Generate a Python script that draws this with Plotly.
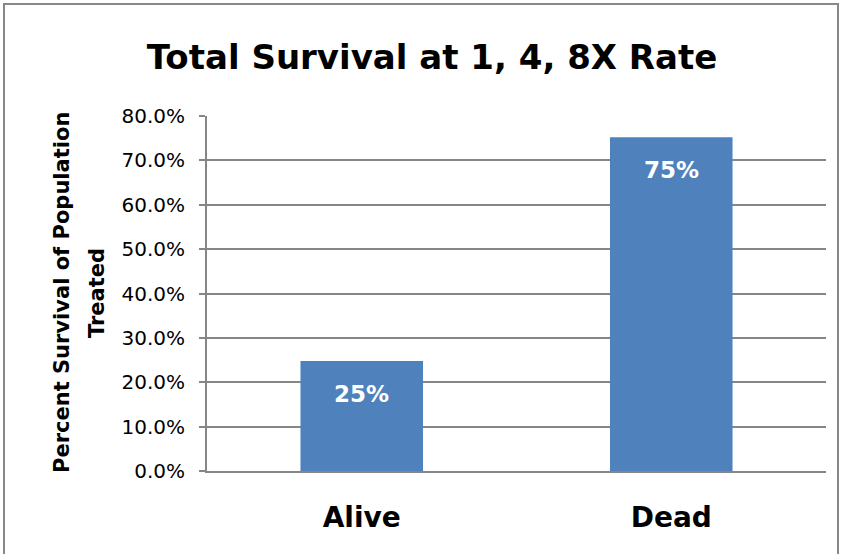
import plotly.graph_objects as go

categories = ["Alive", "Dead"]
values = [0.248, 0.752]
tick_vals = [0, 0.1, 0.2, 0.3, 0.4, 0.5, 0.6, 0.7, 0.8]
y_title_lines = ["Percent Survival of Population", "Treated"]

W, H = 842, 554
ML, MR, MT, MB = 207, 16, 116, 83
PW, PH = W - ML - MR, H - MT - MB
FONT = "DejaVu Sans"

fig = go.Figure(go.Bar(
    x=categories, y=values,
    marker=dict(color="#4F81BD", line=dict(width=0)),
    textposition="none",
    hoverinfo="skip",
))

for c, v in zip(categories, values):
    fig.add_annotation(x=c, y=v, text=f"<b>{v:.0%}</b>", showarrow=False,
                       yanchor="middle", yshift=-33,
                       font=dict(family=FONT, size=23, color="white"))

def px_x(p):
    return (p - ML) / PW

def px_y(p):
    return (H - MB - p) / PH

# y-axis title, two rotated lines
for line, xpx in zip(y_title_lines, [62, 97]):
    fig.add_annotation(xref="paper", yref="paper", x=px_x(xpx), y=px_y(293),
                       text=f"<b>{line}</b>", showarrow=False, textangle=-90,
                       xanchor="center", yanchor="middle",
                       font=dict(family=FONT, size=21, color="black"))

fig.add_shape(type="rect", xref="paper", yref="paper",
              x0=px_x(4), x1=px_x(838), y0=px_y(560), y1=px_y(4),
              line=dict(color="#888888", width=2), fillcolor="rgba(0,0,0,0)", layer="below")

fig.update_layout(
    width=W, height=H,
    margin=dict(l=ML, r=MR, t=MT, b=MB),
    paper_bgcolor="white", plot_bgcolor="white",
    bargap=0.604,
    showlegend=False,
    title=dict(text="<b>Total Survival at 1, 4, 8X Rate</b>", x=432 / W, xref="container",
               xanchor="center", y=1 - 57 / H, yanchor="middle",
               font=dict(family=FONT, size=34, color="black")),
    font=dict(family=FONT, color="black"),
)
fig.update_xaxes(
    showline=True, linecolor="#868686", linewidth=2,
    tickfont=dict(family=FONT, size=28, color="black", weight="bold"),
    ticks="", ticklabelstandoff=20,
)
fig.update_yaxes(
    range=[0, 0.8], tickvals=tick_vals, tickformat=".1%",
    showgrid=True, gridcolor="#868686", gridwidth=1.5,
    showline=True, linecolor="#868686", linewidth=2,
    ticks="outside", ticklen=6, tickcolor="#868686", tickwidth=1.5,
    ticklabelstandoff=10,
    tickfont=dict(family=FONT, size=20, color="black"),
    zeroline=False,
)

fig.write_html("out.html", config={"displayModeBar": False},
               post_script="document.body.style.margin='0';")
